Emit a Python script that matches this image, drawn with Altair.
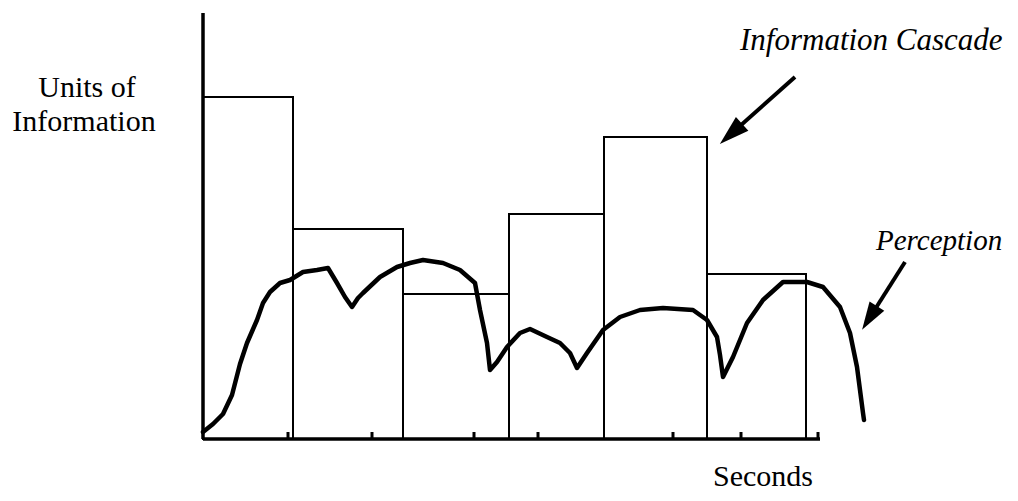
import altair as alt
import pandas as pd

# ---- data (seconds on x, units of information on y) ----
bar_start = [0.0, 9.0, 20.0, 30.6, 40.1, 50.4]
bar_end = [9.0, 20.0, 30.6, 40.1, 50.4, 60.3]
bar_height = [34.2, 21.0, 14.5, 22.5, 30.2, 16.5]

curve_t = [0.0, 1.0, 2.0, 2.9, 3.7, 4.4, 5.4, 6.0, 6.7, 7.7, 8.7, 10.0, 11.4, 12.5,
           13.4, 14.2, 14.9, 15.5, 16.0, 17.7, 19.4, 20.7, 22.0, 24.0, 25.7, 27.2,
           27.7, 28.4, 28.7, 29.4, 30.4, 31.7, 32.7, 34.4, 35.7, 36.7, 37.4, 38.4,
           40.0, 41.7, 43.7, 46.0, 49.0, 50.4, 51.4, 51.7, 52.0, 53.0, 54.4, 56.0,
           58.0, 60.4, 62.0, 63.7, 64.7, 65.4, 66.0, 66.1]
curve_v = [0.7, 1.5, 2.5, 4.4, 7.5, 9.6, 11.9, 13.6, 14.7, 15.6, 15.9, 16.7, 16.9, 17.1,
           15.6, 14.2, 13.2, 14.1, 14.6, 16.2, 17.2, 17.6, 17.9, 17.6, 16.9, 15.6,
           12.9, 9.6, 6.9, 7.7, 9.2, 10.6, 11.0, 10.2, 9.6, 8.6, 7.1, 8.6,
           10.9, 12.2, 12.9, 13.1, 12.9, 11.9, 10.2, 8.4, 6.2, 8.2, 11.6, 13.9,
           15.7, 15.7, 15.2, 13.2, 10.6, 7.2, 2.6, 1.9]

tick_t = [8.5, 16.9, 27.1, 33.5, 47.0, 53.8, 61.5]

x_axis_end = 61.7
y_axis_top = 42.6

# ---- scales ----
W, H = 1002, 485
xs = alt.Scale(domain=[-19.5, 80.7], nice=False, zero=False)
ys = alt.Scale(domain=[-5.4, 43.1], nice=False, zero=False)
FONT = "Liberation Serif"

bars_df = pd.DataFrame({"t": bar_start, "t2": bar_end, "v": [0.0] * 6, "v2": bar_height})
curve_df = pd.DataFrame({"t": curve_t, "v": curve_v})
ticks_df = pd.DataFrame({"t": tick_t, "v": [0.0] * len(tick_t), "v2": [0.7] * len(tick_t)})
axes_df = pd.DataFrame({"t": [0.0, 0.0], "t2": [0.0, x_axis_end], "v": [0.0, 0.0], "v2": [y_axis_top, 0.0]})

bars = alt.Chart(bars_df).mark_rect(fill="white", fillOpacity=0, stroke="black", strokeWidth=2).encode(
    x=alt.X("t:Q", scale=xs, axis=None), x2="t2:Q",
    y=alt.Y("v:Q", scale=ys, axis=None), y2="v2:Q")

curve = alt.Chart(curve_df).mark_line(color="black", strokeWidth=4.5, strokeJoin="round", strokeCap="round").encode(
    x=alt.X("t:Q", scale=xs, axis=None), y=alt.Y("v:Q", scale=ys, axis=None))

axes = alt.Chart(axes_df).mark_rule(color="black", strokeWidth=3.5).encode(
    x=alt.X("t:Q", scale=xs, axis=None), x2="t2:Q",
    y=alt.Y("v:Q", scale=ys, axis=None), y2="v2:Q")

ticks = alt.Chart(ticks_df).mark_rule(color="black", strokeWidth=3).encode(
    x=alt.X("t:Q", scale=xs, axis=None),
    y=alt.Y("v:Q", scale=ys, axis=None), y2="v2:Q")

# ---- annotations ----
labels_df = pd.DataFrame({
    "t": [-11.6, -11.9, 56.0],
    "v": [34.2, 30.8, -4.7],
    "text": ["Units of", "Information", "Seconds"],
})
labels = alt.Chart(labels_df).mark_text(font=FONT, fontSize=30, align="center", baseline="alphabetic", color="black").encode(
    x=alt.X("t:Q", scale=xs, axis=None), y=alt.Y("v:Q", scale=ys, axis=None), text="text:N")

ital_df = pd.DataFrame({
    "t": [53.7, 67.3],
    "v": [38.9, 18.9],
    "size": [31, 29],
    "text": ["Information Cascade", "Perception"],
})
ital = alt.Chart(ital_df).mark_text(font=FONT, fontStyle="italic", align="left", baseline="alphabetic", color="black").encode(
    x=alt.X("t:Q", scale=xs, axis=None), y=alt.Y("v:Q", scale=ys, axis=None), text="text:N",
    size=alt.Size("size:Q", scale=None, legend=None))

arrow_df = pd.DataFrame({
    "t": [59.2, 70.2], "t2": [52.8, 66.65],
    "v": [36.2, 17.7], "v2": [30.5, 12.1],
})
arrow_lines = alt.Chart(arrow_df).mark_rule(color="black", strokeWidth=4).encode(
    x=alt.X("t:Q", scale=xs, axis=None), x2="t2:Q",
    y=alt.Y("v:Q", scale=ys, axis=None), y2="v2:Q")

head_df = pd.DataFrame({"t": [52.8, 66.65], "v": [30.5, 12.1], "ang": [228, 212], "sz": [900, 784]})
heads = alt.Chart(head_df).mark_point(
    shape="M0,-1L0.62,1L-0.62,1Z", filled=True, color="black", opacity=1, strokeWidth=0).encode(
    x=alt.X("t:Q", scale=xs, axis=None), y=alt.Y("v:Q", scale=ys, axis=None),
    angle=alt.Angle("ang:Q", scale=None), size=alt.Size("sz:Q", scale=None, legend=None))

chart = alt.layer(bars, curve, axes, ticks, labels, ital, arrow_lines, heads).properties(
    width=W, height=H, padding=0, autosize=alt.AutoSizeParams(type="none"),
    background="white",
).configure_view(stroke=None)

chart.save("out.html", embed_options={"renderer": "svg", "actions": False})
